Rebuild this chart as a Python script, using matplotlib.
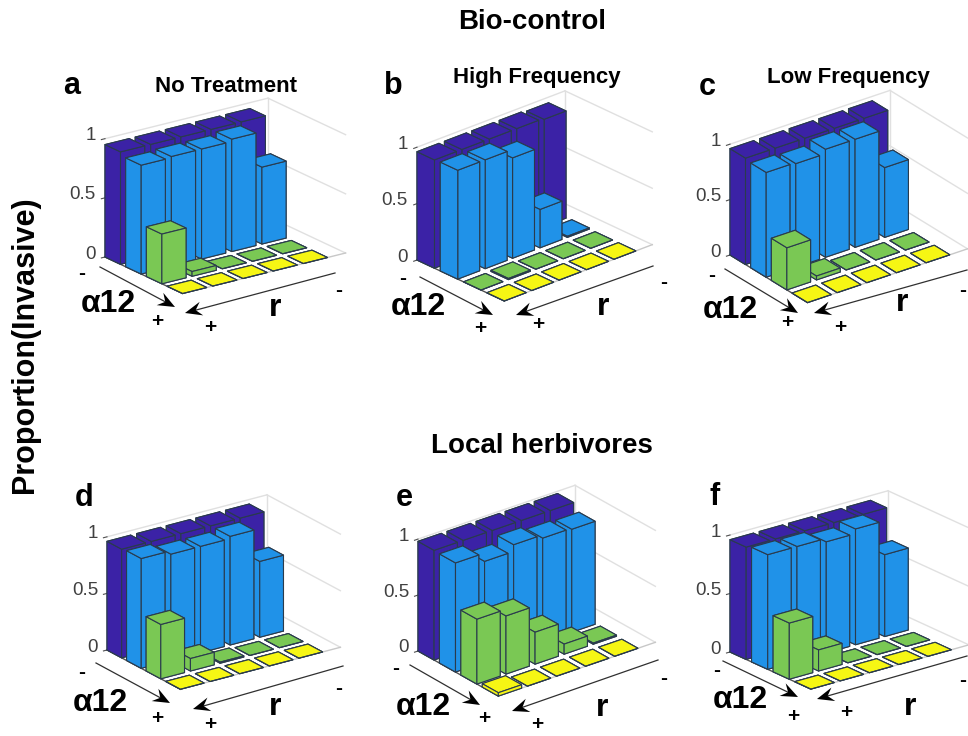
import matplotlib
matplotlib.use("Agg")
import matplotlib.pyplot as plt
import numpy as np
from matplotlib.lines import Line2D
from matplotlib.patches import Polygon
from mpl_toolkits.mplot3d import proj3d

plt.rcParams['font.family'] = ['Liberation Sans', 'DejaVu Sans']

W, H = 968, 736
ROW_COLORS = ['#3B22A6', '#2092E8', '#7AC854', '#F6F614']
ZTICKS = [0, 0.5, 1]
ZTICK_LABELS = ['0', '0.5', '1']

# Rows along alpha12 (- to +), columns along r (+ to -)
a_purple = [.95, .95, .95, .95, .95]
a_blue = [.92, .93, .93, .95, .65]
a_green = [.42, .04, 0, 0, 0]
a_yellow = [0, 0, 0, 0, 0]

b_purple = [.96, .96, .96, .96, .95]
b_blue = [.965, .965, .89, .34, .01]
b_green = [0, .01, 0, 0, 0]
b_yellow = [0, 0, 0, 0, 0]

c_purple = [.96, .96, .96, .96, .96]
c_blue = [.945, .935, .975, .975, .63]
c_green = [.38, .035, 0, 0, 0]
c_yellow = [0, 0, 0, 0, 0]

d_purple = [.96, .96, .96, .96, .96]
d_blue = [.97, .94, .94, .96, .67]
d_green = [.48, .11, .01, 0, 0]
d_yellow = [0, 0, 0, 0, 0]

e_purple = [.98, .98, .98, .98, .98]
e_blue = [.975, .90, .96, .93, .92]
e_green = [.58, .52, .285, .09, .01]
e_yellow = [.03, 0, 0, 0, 0]

f_purple = [.96, .96, .96, .96, .96]
f_blue = [.98, .98, .95, .99, .70]
f_green = [.48, .18, 0, 0, 0]
f_yellow = [0, 0, 0, 0, 0]

DATA = {
    'a': [a_purple, a_blue, a_green, a_yellow],
    'b': [b_purple, b_blue, b_green, b_yellow],
    'c': [c_purple, c_blue, c_green, c_yellow],
    'd': [d_purple, d_blue, d_green, d_yellow],
    'e': [e_purple, e_blue, e_green, e_yellow],
    'f': [f_purple, f_blue, f_green, f_yellow],
}

# layout in pixels of the reference: floor left corner, width of r side, view
VIEW = {
    'a': dict(lx=105, ly=257, rdx=163, elev=20, azim=-36),
    'b': dict(lx=417, ly=260, rdx=148, elev=25, azim=-42),
    'c': dict(lx=730, ly=255, rdx=160, elev=27, azim=-36.5),
    'd': dict(lx=107, ly=650, rdx=160, elev=22, azim=-35),
    'e': dict(lx=418, ly=651, rdx=157, elev=26, azim=-38),
    'f': dict(lx=730, ly=652, rdx=158, elev=21, azim=-38),
}
LABELS = {
    'a': dict(letter=(72, 86), alpha=(108, 304), r=(275, 308), m1=(82, 274), p1=(157, 321), p2=(210, 327), m2=(339, 291),
              ar1=((100, 267), (175, 307)), ar2=((335, 273), (185, 313))),
    'b': dict(letter=(393, 86), alpha=(418, 307), r=(603, 307), m1=(403, 278), p1=(480, 328), p2=(538, 325), m2=(664, 283),
              ar1=((420, 277), (493, 315)), ar2=((653, 266), (516, 315))),
    'c': dict(letter=(707, 87), alpha=(730, 310), r=(902, 303), m1=(712, 275), p1=(787, 322), p2=(840, 327), m2=(963, 291),
              ar1=((725, 269), (798, 313)), ar2=((967, 270), (814, 313))),
    'd': dict(letter=(84, 498), alpha=(100, 703), r=(275, 707), m1=(82, 672), p1=(157, 719), p2=(210, 725), m2=(339, 689),
              ar1=((96, 663), (170, 703)), ar2=((343, 666), (193, 709))),
    'e': dict(letter=(404, 498), alpha=(423, 707), r=(602, 708), m1=(396, 668), p1=(484, 719), p2=(537, 725), m2=(664, 679),
              ar1=((410, 665), (480, 705)), ar2=((658, 660), (512, 711))),
    'f': dict(letter=(715, 497), alpha=(740, 700), r=(910, 707), m1=(717, 671), p1=(793, 717), p2=(846, 713), m2=(963, 681),
              ar1=((723, 661), (798, 697)), ar2=((967, 656), (817, 699))),
}
TITLES = {'a': ('No Treatment', 226, 86), 'b': ('High Frequency', 537, 78), 'c': ('Low Frequency', 848, 77)}

X0, X1, Y0, Y1 = 0.625, 4.375, 0.6, 6.0
DX, DY = 0.75, 0.8

fig = plt.figure(figsize=(W / 100, H / 100), dpi=100, facecolor='white')


def ftext(x, y, s, **kw):
    fig.text(x / W, 1 - y / H, s, ha=kw.pop('ha', 'center'), va='center', **kw)


def to_display(ax, x, y, z):
    u, v, _ = proj3d.proj_transform(x, y, z, ax.get_proj())
    return ax.transData.transform((u, v))


def place(ax, lx, ly, rdx):
    S = 300
    ax.set_position([0, 0, S / W, S / H])
    ax.apply_aspect()
    p0 = to_display(ax, X0, Y0, 0)
    p1 = to_display(ax, X0, Y1, 0)
    S2 = S * rdx / (p1[0] - p0[0])
    ax.set_position([0, 0, S2 / W, S2 / H])
    ax.apply_aspect()
    p0 = to_display(ax, X0, Y0, 0)
    ax.set_position([(lx - p0[0]) / W, ((H - ly) - p0[1]) / H, S2 / W, S2 / H])
    ax.apply_aspect()


def arrow(start, end):
    s, e = np.array(start, float), np.array(end, float)
    u = (e - s) / np.hypot(*(e - s))
    n = np.array([-u[1], u[0]])
    tip = e
    pts = [tip, tip - 17 * u + 7 * n, tip - 11 * u, tip - 17 * u - 7 * n]
    fig.add_artist(Line2D([s[0] / W, (tip - 11 * u)[0] / W], [1 - s[1] / H, 1 - (tip - 11 * u)[1] / H],
                          transform=fig.transFigure, color='#303030', lw=0.9, zorder=300))
    fig.add_artist(Polygon([(x / W, 1 - y / H) for x, y in pts], closed=True, transform=fig.transFigure,
                           facecolor='black', edgecolor='none', zorder=301))


for key, rows in DATA.items():
    v = VIEW[key]
    ax = fig.add_axes([0, 0, 0.3, 0.3], projection='3d', computed_zorder=False, proj_type='ortho')
    ax.patch.set_alpha(0)
    ax.set_axis_off()
    ax.view_init(elev=v['elev'], azim=v['azim'])

    grid = dict(color='#e0e0e0', lw=1.0, zorder=1, clip_on=False)
    for z in ZTICKS:
        ax.plot([X0, X1], [Y1, Y1], [z, z], **grid)
    ax.plot([X0, X0], [Y0, Y1], [1, 1], **grid)
    ax.plot([X0, X0], [Y1, Y1], [0, 1], **grid)
    ax.plot([X1, X1], [Y0, Y1], [0, 0], color='#c8c8c8', lw=1.0, zorder=1, clip_on=False)
    ax.plot([X0, X1], [Y0, Y0], [0, 0], color='#505050', lw=1.0, zorder=1, clip_on=False)

    for i, row in enumerate(rows):
        for j, val in enumerate(row):
            col = ax.bar3d(i + 1 - DX / 2, j + 1 - DY / 2, 0, DX, DY, val, color=ROW_COLORS[i],
                           edgecolor='#2a3b4d', linewidth=0.8, shade=False,
                           zorder=10 + i * 10 - j)
            col.set_clip_on(False)

    for z in ZTICKS:
        ax.plot([X0, X0], [Y0 - 0.12, Y0], [z, z], color='#505050', lw=0.8, zorder=1, clip_on=False)

    ax.set_xlim(X0, X1, view_margin=0)
    ax.set_ylim(Y0, Y1, view_margin=0)
    ax.set_zlim(0, 1, view_margin=0)
    ax.set_box_aspect((131, 200, 125))
    place(ax, v['lx'], v['ly'], v['rdx'])

    for z, lab in zip(ZTICKS, ZTICK_LABELS):
        px, py = to_display(ax, X0, Y0, z)
        ftext(px - 9, H - py - 3, lab, ha='right', fontsize=13.5, color='#404040')

    t = LABELS[key]
    ftext(*t['letter'], key, fontsize=22, fontweight='bold', color='black')
    ftext(*t['alpha'], 'α12', fontsize=23, fontweight='bold', color='black')
    ftext(*t['r'], 'r', fontsize=23, fontweight='bold', color='black')
    for k in ('m1', 'm2', 'p1', 'p2'):
        ftext(*t[k], '-' if k[0] == 'm' else '+', fontsize=15, fontweight='bold', color='black')
    for k in ('ar1', 'ar2'):
        arrow(*t[k])

for key, (s, x, y) in TITLES.items():
    ftext(x, y, s, fontsize=16, fontweight='bold', color='black')

ftext(532, 22, 'Bio-control', fontsize=20, fontweight='bold', color='black')
ftext(542, 446, 'Local herbivores', fontsize=20, fontweight='bold', color='black')
ftext(25, 345, 'Proportion(Invasive)', fontsize=22, fontweight='bold', rotation=90, color='black')

fig.savefig('out.png', dpi=100)
